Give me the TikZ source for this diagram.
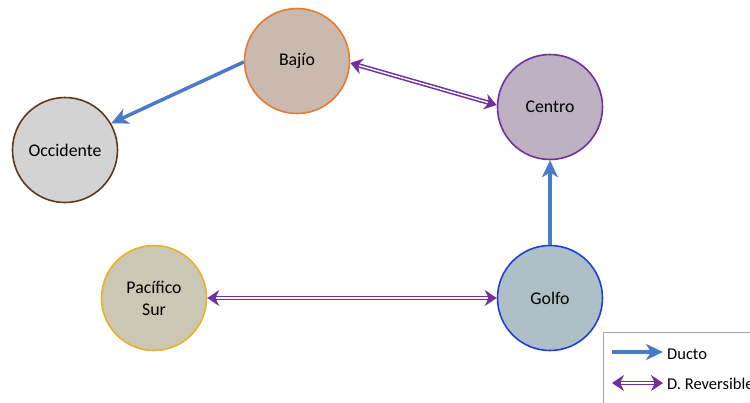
\documentclass[tikz,border=0pt]{standalone}
\usepackage{fontspec}
\setmainfont{Carlito}
\usetikzlibrary{arrows.meta}
\definecolor{ductoblue}{HTML}{4A7AC8}
\definecolor{revpurple}{HTML}{7030A0}
\definecolor{bajiofill}{RGB}{201,185,174}
\definecolor{bajioline}{RGB}{233,123,44}
\definecolor{centrofill}{RGB}{189,177,194}
\definecolor{centroline}{RGB}{112,48,160}
\definecolor{occfill}{RGB}{211,211,211}
\definecolor{occline}{RGB}{94,58,30}
\definecolor{pacfill}{RGB}{204,198,180}
\definecolor{pacline}{RGB}{230,180,34}
\definecolor{golfofill}{RGB}{175,191,198}
\definecolor{golfoline}{RGB}{31,63,224}
\definecolor{legendline}{RGB}{166,166,166}
\begin{document}
\begin{tikzpicture}[x=1pt,y=-1pt,
  region/.style={circle, minimum size=105pt, inner sep=0pt, line width=1.6pt, align=center, font=\fontsize{17.8}{22}\selectfont},
  ducto/.style={draw=ductoblue, line width=3.5pt, -{Stealth[length=17pt,width=16pt,inset=5pt]}},
  revouter/.style={draw=revpurple, line width=4.5pt, {Stealth[length=12pt,width=16pt,inset=4pt]}-{Stealth[length=12pt,width=16pt,inset=4pt]}},
  revinner/.style={draw=white, line width=1.4pt, shorten <=9pt, shorten >=9pt},
  legendtext/.style={anchor=west, inner sep=0pt, font=\fontsize{16.5}{19}\selectfont}]
\useasboundingbox (0,0) rectangle (750,402);
\clip (0,0) rectangle (750,402);
% regions
\node[region, fill=bajiofill, draw=bajioline] (bajio) at (297,61) {Bajío};
\node[region, fill=centrofill, draw=centroline] (centro) at (550,107) {Centro};
\node[region, fill=occfill, draw=occline] (occ) at (65,150) {Occidente};
\node[region, fill=pacfill, draw=pacline] (pac) at (154,298) {Pacífico\\Sur};
\node[region, fill=golfofill, draw=golfoline] (golfo) at (550,298) {Golfo};
% pipelines
\draw[ducto] (bajio.west |- 0,62) -- (occ.30);
\draw[ducto] (golfo.north) -- (centro.south);
% reversible links
\draw[revouter] (bajio.east |- 0,63) -- (centro.west |- 0,105);
\draw[revinner] (bajio.east |- 0,63) -- (centro.west |- 0,105);
\draw[revouter] (pac.east) -- (golfo.west);
\draw[revinner] (pac.east) -- (golfo.west);
% legend
\node[draw=legendline, line width=1pt, minimum width=160pt, minimum height=80pt, anchor=north west] (legend) at (603,332) {};
\coordinate (l1a) at (612,352);
\coordinate (l1b) at (663,352);
\coordinate (l2a) at (612,383);
\coordinate (l2b) at (663,383);
\draw[ducto] (l1a) -- (l1b);
\draw[revouter] (l2a) -- (l2b);
\draw[revinner] (l2a) -- (l2b);
\node[legendtext] (t1) at (667,354) {Ducto};
\node[legendtext] (t2) at (667,384) {D. Reversible};
\end{tikzpicture}
\end{document}
